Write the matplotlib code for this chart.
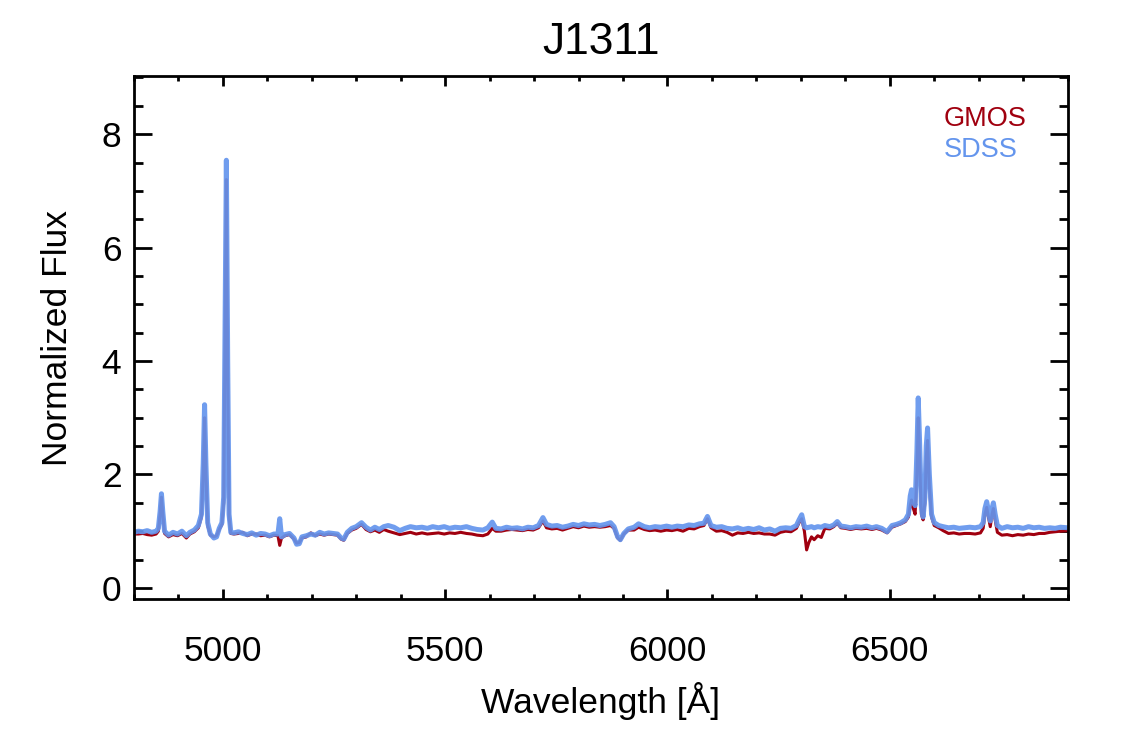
import matplotlib
matplotlib.use('Agg')
import matplotlib.pyplot as plt
from matplotlib.ticker import MultipleLocator

plt.rcParams['font.family'] = ['Liberation Sans', 'DejaVu Sans']

# wavelength [A], normalized flux (SDSS, GMOS)
wave = [4800, 4810, 4820, 4830, 4840, 4850, 4855, 4859, 4862, 4865, 4869, 4878, 4888, 4898,
        4908, 4918, 4926, 4936, 4945, 4952, 4956, 4959, 4962, 4966, 4972, 4980, 4986, 4992,
        4998, 5002, 5005, 5008, 5011, 5014, 5018, 5025, 5035, 5045, 5055, 5065, 5075, 5085,
        5095, 5105, 5115, 5124, 5128, 5132, 5140, 5150, 5160, 5166, 5172, 5178, 5188, 5198,
        5208, 5218, 5228, 5238, 5248, 5258, 5266, 5272, 5280, 5290, 5300, 5312, 5322, 5332,
        5342, 5352, 5362, 5372, 5385, 5398, 5410, 5422, 5435, 5448, 5460, 5472, 5485, 5498,
        5510, 5522, 5535, 5548, 5560, 5572, 5585, 5596, 5606, 5614, 5626, 5638, 5650, 5662,
        5674, 5686, 5698, 5710, 5720, 5728, 5740, 5752, 5764, 5776, 5788, 5800, 5812, 5824,
        5836, 5848, 5860, 5872, 5880, 5888, 5894, 5902, 5912, 5925, 5935, 5948, 5960, 5972,
        5985, 5998, 6010, 6022, 6035, 6048, 6060, 6072, 6082, 6090, 6098, 6110, 6122, 6134,
        6146, 6158, 6170, 6182, 6194, 6206, 6218, 6230, 6242, 6254, 6266, 6278, 6290, 6296,
        6302, 6308, 6313, 6318, 6324, 6330, 6338, 6346, 6354, 6365, 6374, 6382, 6390, 6400,
        6412, 6424, 6436, 6448, 6460, 6470, 6482, 6494, 6505, 6515, 6525, 6535, 6542, 6546,
        6549, 6553, 6557, 6561, 6564, 6567, 6571, 6575, 6579, 6582, 6585, 6589, 6594, 6600,
        6610, 6620, 6632, 6644, 6656, 6668, 6680, 6692, 6704, 6710, 6714, 6718, 6722, 6726,
        6730, 6733, 6737, 6742, 6752, 6764, 6776, 6788, 6800, 6812, 6824, 6836, 6848, 6860,
        6872, 6884, 6900]

sdss = [0.98, 1.00, 0.99, 1.01, 0.98, 1.00, 1.05, 1.35, 1.66, 1.35, 1.00, 0.93, 0.98, 0.95,
        1.00, 0.92, 0.98, 1.02, 1.10, 1.30, 2.20, 3.23, 2.20, 1.15, 0.95, 0.88, 0.90, 1.05,
        1.15, 1.60, 4.50, 7.54, 4.00, 1.30, 0.98, 0.97, 0.99, 0.96, 0.94, 0.97, 0.93, 0.96,
        0.95, 0.92, 0.95, 0.95, 1.22, 0.90, 0.94, 0.96, 0.88, 0.77, 0.78, 0.90, 0.92, 0.95,
        0.93, 0.98, 0.95, 0.97, 0.96, 0.95, 0.88, 0.86, 0.98, 1.05, 1.08, 1.15, 1.07, 1.02,
        1.07, 1.03, 1.08, 1.10, 1.07, 1.01, 1.05, 1.08, 1.06, 1.07, 1.05, 1.08, 1.06, 1.08,
        1.05, 1.07, 1.06, 1.08, 1.05, 1.03, 1.02, 1.06, 1.16, 1.05, 1.04, 1.07, 1.05, 1.06,
        1.04, 1.07, 1.06, 1.10, 1.24, 1.12, 1.09, 1.10, 1.07, 1.09, 1.12, 1.10, 1.13, 1.11,
        1.12, 1.10, 1.12, 1.15, 1.08, 0.90, 0.85, 0.96, 1.04, 1.07, 1.13, 1.08, 1.06, 1.08,
        1.07, 1.09, 1.07, 1.09, 1.08, 1.11, 1.10, 1.13, 1.14, 1.26, 1.10, 1.07, 1.08, 1.05,
        1.04, 1.06, 1.03, 1.05, 1.03, 1.06, 1.02, 1.04, 1.00, 1.05, 1.06, 1.05, 1.10, 1.20,
        1.29, 1.08, 1.06, 1.07, 1.08, 1.06, 1.08, 1.07, 1.10, 1.08, 1.11, 1.17, 1.09, 1.08,
        1.06, 1.08, 1.07, 1.09, 1.06, 1.08, 1.05, 0.99, 1.10, 1.12, 1.15, 1.20, 1.30, 1.62,
        1.73, 1.55, 1.45, 2.40, 3.35, 2.60, 1.45, 1.25, 1.60, 2.50, 2.82, 2.00, 1.30, 1.15,
        1.10, 1.08, 1.06, 1.07, 1.05, 1.06, 1.07, 1.06, 1.08, 1.15, 1.40, 1.52, 1.35, 1.18,
        1.40, 1.50, 1.30, 1.10, 1.05, 1.08, 1.06, 1.07, 1.05, 1.08, 1.06, 1.07, 1.05, 1.06,
        1.05, 1.07, 1.06]

gmos = [0.95, 0.95, 0.96, 0.94, 0.93, 0.95, 1.00, 1.30, 1.60, 1.30, 0.96, 0.90, 0.94, 0.92,
        0.96, 0.88, 0.95, 0.99, 1.06, 1.25, 2.00, 3.00, 2.00, 1.10, 0.93, 0.90, 0.92, 1.03,
        1.12, 1.50, 4.30, 7.20, 3.80, 1.25, 0.96, 0.95, 0.96, 0.98, 0.92, 0.95, 0.95, 0.92,
        0.93, 0.90, 0.93, 0.92, 0.75, 0.88, 0.92, 0.94, 0.86, 0.79, 0.80, 0.88, 0.90, 0.97,
        0.92, 0.95, 0.93, 0.95, 0.94, 0.93, 0.86, 0.84, 0.96, 1.02, 1.05, 1.12, 1.03, 0.99,
        1.02, 0.98, 1.03, 1.00, 0.97, 0.94, 0.96, 0.98, 0.95, 0.97, 0.95, 0.96, 0.97, 0.95,
        0.97, 0.96, 0.98, 0.96, 0.95, 0.93, 0.92, 0.95, 1.05, 1.00, 1.00, 1.02, 1.03, 1.02,
        1.01, 1.03, 1.02, 1.06, 1.18, 1.06, 1.04, 1.05, 1.02, 1.05, 1.08, 1.06, 1.09, 1.07,
        1.08, 1.07, 1.08, 1.10, 1.05, 0.88, 0.84, 0.95, 1.02, 1.02, 1.07, 1.03, 1.01, 1.02,
        1.00, 1.02, 1.01, 1.03, 1.00, 1.05, 1.04, 1.08, 1.10, 1.22, 1.06, 1.00, 1.01, 0.98,
        0.93, 0.97, 0.96, 0.98, 0.96, 0.97, 0.95, 0.95, 0.93, 0.98, 1.00, 0.99, 1.05, 1.15,
        1.22, 1.00, 0.67, 0.80, 0.90, 0.85, 0.92, 0.89, 1.05, 1.04, 1.08, 1.14, 1.06, 1.05,
        1.03, 1.05, 1.04, 1.05, 1.03, 1.05, 1.02, 0.97, 1.07, 1.10, 1.13, 1.17, 1.25, 1.45,
        1.55, 1.40, 1.30, 2.00, 3.00, 2.30, 1.30, 1.20, 1.50, 2.30, 2.60, 1.80, 1.25, 1.10,
        1.06, 1.01, 0.96, 0.97, 0.95, 0.96, 0.96, 0.95, 0.97, 1.05, 1.30, 1.42, 1.25, 1.08,
        1.30, 1.40, 1.20, 0.98, 0.93, 0.94, 0.92, 0.94, 0.93, 0.95, 0.94, 0.96, 0.96, 0.98,
        0.99, 1.00, 1.01]

fig = plt.figure(figsize=(11.25, 7.5), dpi=100)
ax = fig.add_axes([0.119, 0.201, 0.830, 0.698])

ax.plot(wave, gmos, color='#a0000f', lw=2.2)
ax.plot(wave, sdss, color='#6495ed', lw=3.6, alpha=0.92)

ax.set_xlim(4800, 6900)
ax.set_ylim(-0.2, 9.03)
ax.xaxis.set_major_locator(MultipleLocator(500))
ax.xaxis.set_minor_locator(MultipleLocator(100))
ax.yaxis.set_major_locator(MultipleLocator(2))
ax.yaxis.set_minor_locator(MultipleLocator(0.5))

for s in ax.spines.values():
    s.set_linewidth(2.0)
ax.tick_params(axis='both', which='both', direction='in', top=True, right=True, width=2.0)
ax.tick_params(axis='x', which='major', length=7.5, pad=26, labelsize=25.5)
ax.tick_params(axis='x', which='minor', length=3.8)
ax.tick_params(axis='y', which='major', length=13, pad=9, labelsize=25.5)
ax.tick_params(axis='y', which='minor', length=6.5)

ax.set_xlabel('Wavelength [Å]', fontsize=25.5, labelpad=10)
ax.set_ylabel('Normalized Flux', fontsize=25.5, labelpad=20)
ax.set_title('J1311', fontsize=32, pad=16)

ax.text(0.867, 0.917, 'GMOS', transform=ax.transAxes, color='#a0000f', fontsize=19.5,
        ha='left', va='center')
ax.text(0.867, 0.858, 'SDSS', transform=ax.transAxes, color='#6495ed', fontsize=19.5,
        ha='left', va='center')

fig.savefig('out.png', dpi=100)
